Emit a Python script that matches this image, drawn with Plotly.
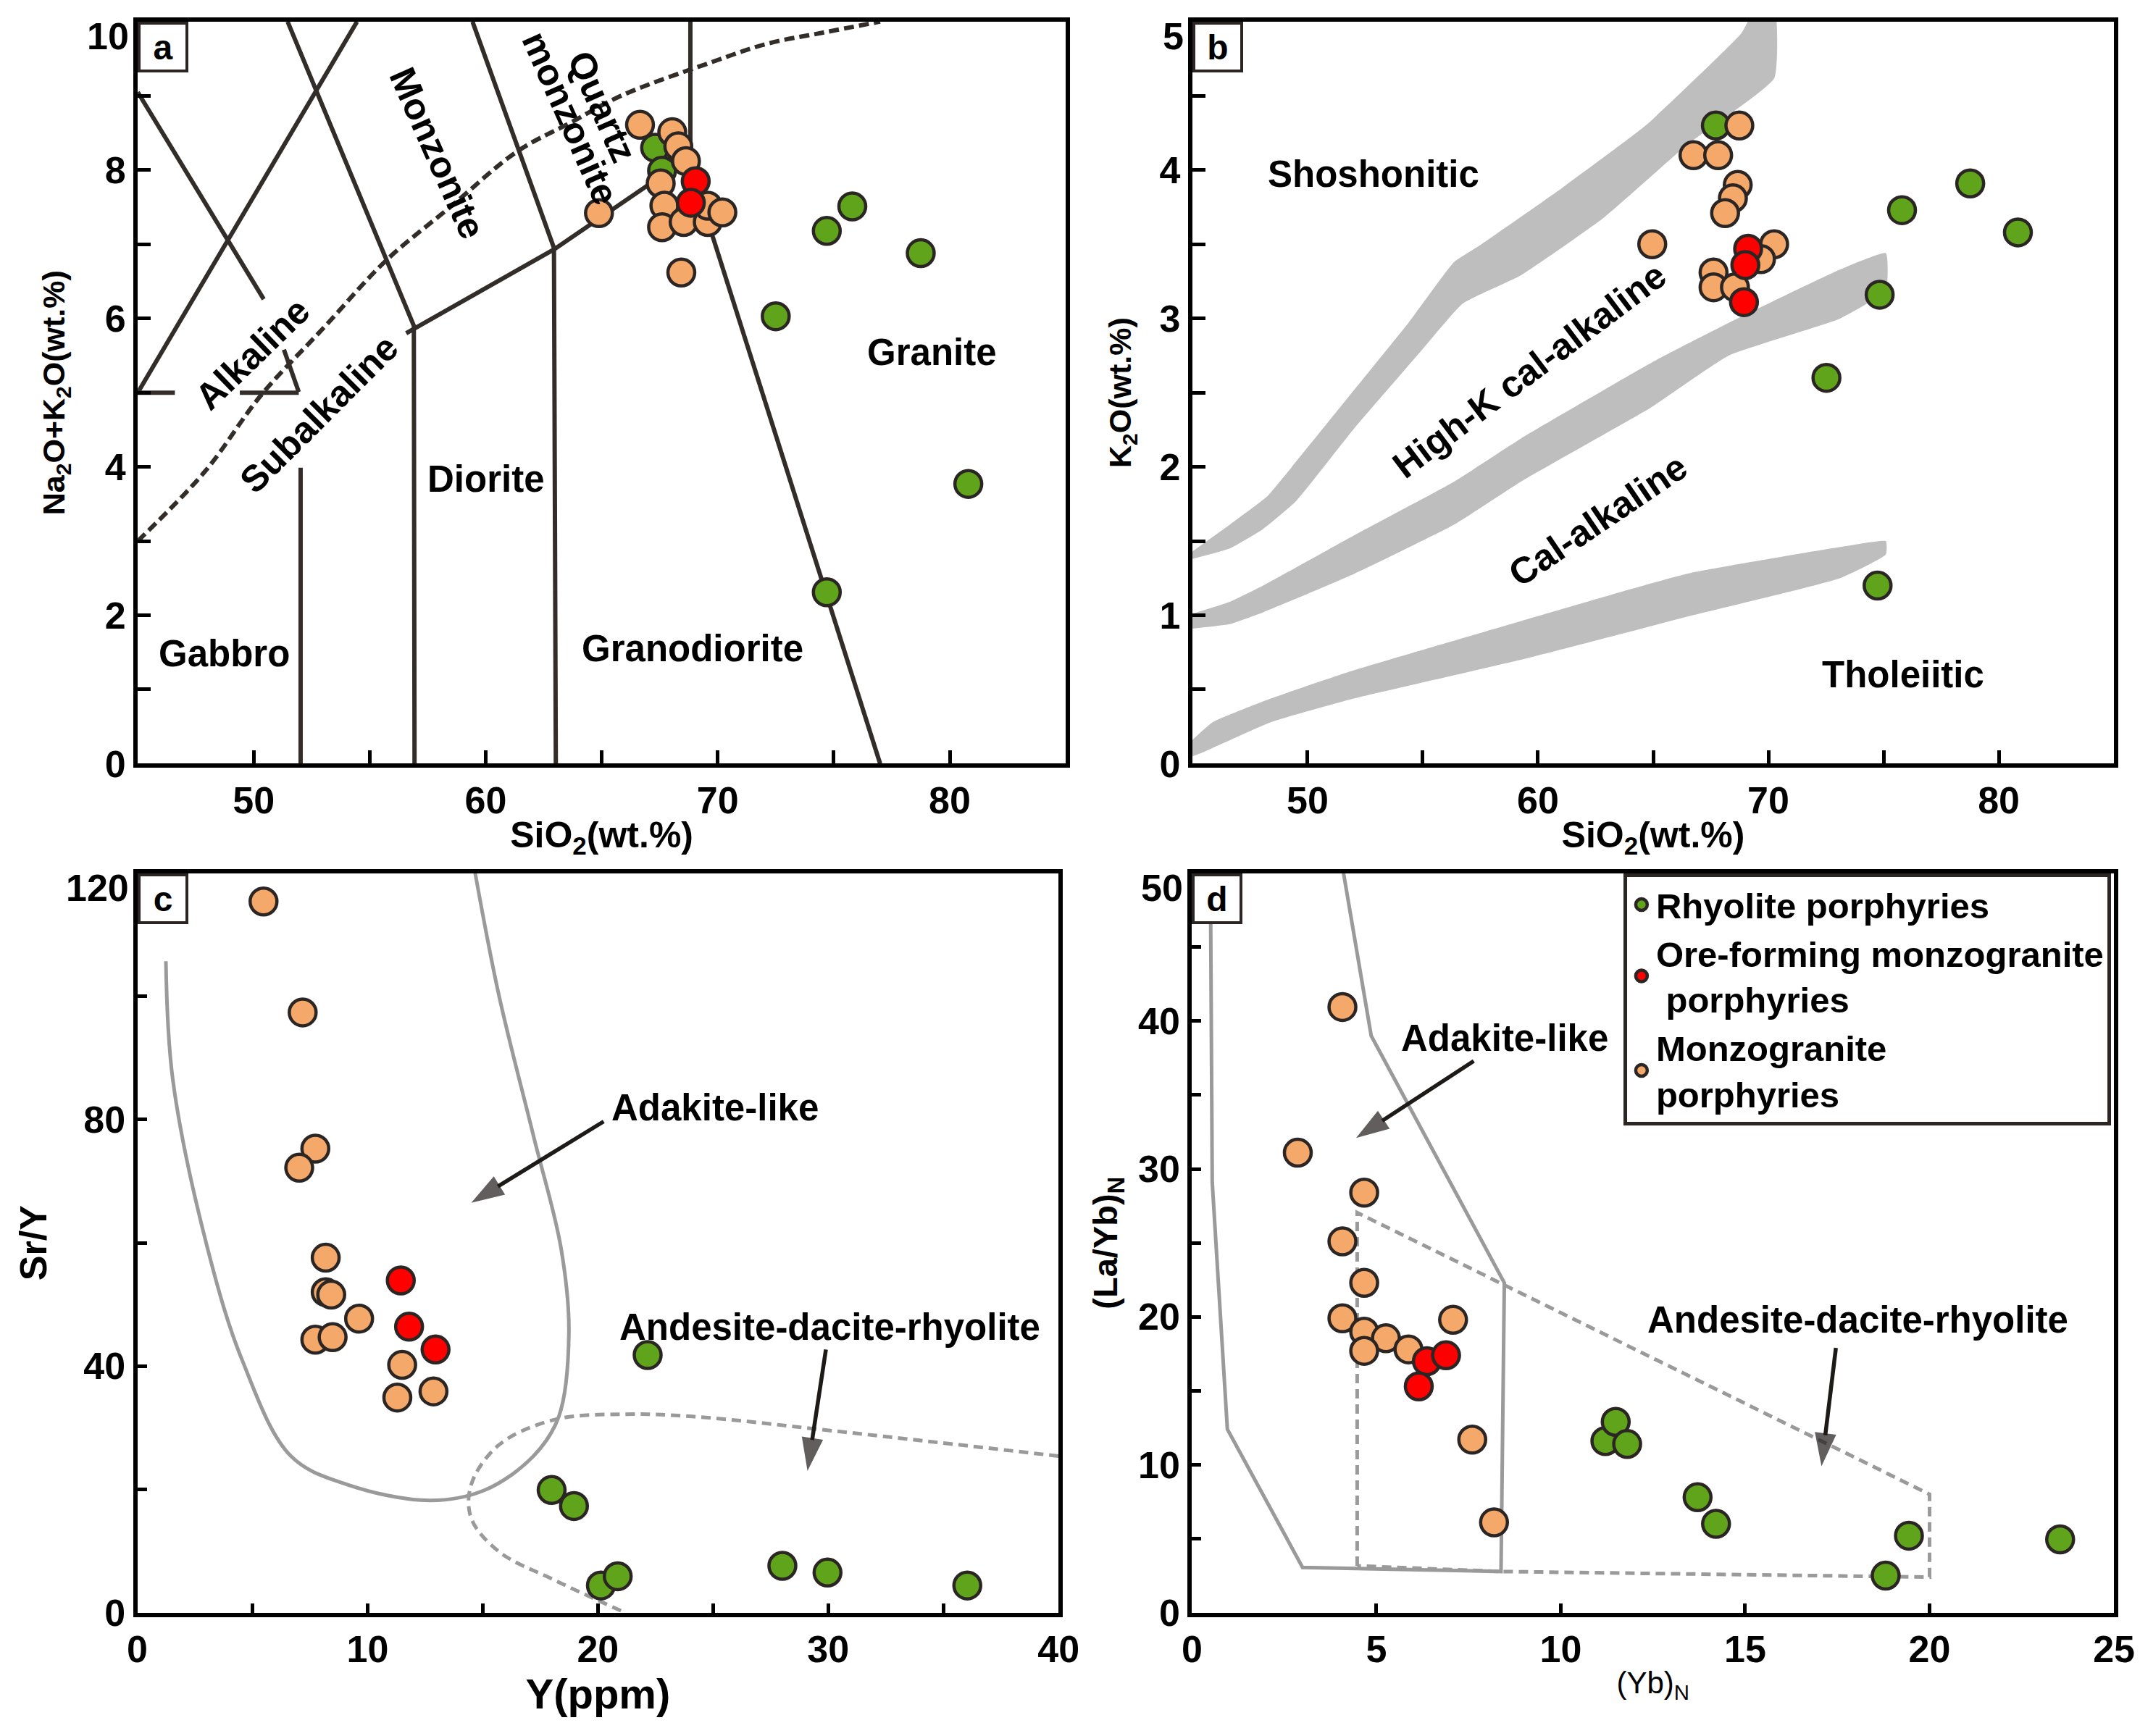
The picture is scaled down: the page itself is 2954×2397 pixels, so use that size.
import plotly.graph_objects as go

FONT = "Liberation Sans, Arial, sans-serif"
DARK = "#2b2623"
LINEC = "#332d2a"
GREEN = "#5fa41b"
ORANGE = "#f4a86a"
RED = "#ff0000"
GRAY = "#9a9a9a"
BAND = "#bebebe"

# ---------------- tick values (top value of each y axis is written at the frame corner) ----------------
ya_ticks = [0, 2, 4, 6, 8]
ya_top = "10"
yb_ticks = [0, 1, 2, 3, 4]
yb_top = "5"
yc_ticks = [0, 40, 80]
yc_top = "120"
yd_ticks = [0, 10, 20, 30, 40]
yd_top = "50"

# ---------------- data: panel a (TAS) ----------------
rhy_a_sio2 = [67.3, 67.6, 72.5, 74.7, 75.8, 78.75, 80.8, 74.7]
rhy_a_alk = [8.30, 7.99, 6.03, 7.18, 7.51, 6.88, 3.77, 2.31]
mzg_a_sio2 = [66.65, 68.04, 68.3, 68.63, 67.54, 67.7, 67.6, 68.53, 69.57, 69.57, 70.2, 64.88, 68.43]
mzg_a_alk = [8.61, 8.51, 8.32, 8.12, 7.82, 7.52, 7.23, 7.30, 7.30, 7.52, 7.43, 7.42, 6.62]
ore_a_sio2 = [69.05, 68.84]
ore_a_alk = [7.85, 7.56]

# ---------------- data: panel b (SiO2-K2O) ----------------
rhy_b_sio2 = [67.72, 72.52, 74.83, 75.8, 78.76, 80.83, 74.74]
rhy_b_k2o = [4.30, 2.60, 3.16, 3.73, 3.91, 3.58, 1.20]
mzg_b_sio2 = [68.74, 66.75, 67.82, 68.67, 68.46, 68.12, 64.96, 70.25, 69.68, 67.62, 67.62, 68.55]
mzg_b_k2o = [4.30, 4.10, 4.10, 3.90, 3.81, 3.71, 3.50, 3.50, 3.40, 3.31, 3.21, 3.21]
ore_b_sio2 = [69.12, 69.0, 68.94]
ore_b_k2o = [3.47, 3.36, 3.11]

# ---------------- data: panel c (Y - Sr/Y) ----------------
rhy_c_y = [17.99, 18.96, 20.13, 20.86, 22.16, 28.01, 29.97, 36.04]
rhy_c_sry = [19.9, 17.3, 4.4, 5.9, 41.8, 7.6, 6.5, 4.4]
mzg_c_y = [5.48, 7.18, 7.73, 7.03, 8.18, 8.18, 8.42, 9.63, 7.73, 8.48, 11.5, 11.29, 12.86]
mzg_c_sry = [115.4, 97.4, 75.3, 72.2, 57.6, 52.0, 51.6, 47.7, 44.3, 44.7, 40.2, 34.9, 35.9]
ore_c_y = [11.44, 11.8, 12.95]
ore_c_sry = [53.9, 46.4, 42.7]

# ---------------- data: panel d (YbN - (La/Yb)N) ----------------
rhy_d_yb = [11.21, 11.49, 11.8, 13.71, 14.21, 18.81, 19.44, 23.54]
rhy_d_layb = [11.6, 12.9, 11.4, 7.8, 6.0, 2.5, 5.2, 4.95]
mzg_d_yb = [4.08, 2.87, 4.67, 4.08, 4.67, 4.08, 4.67, 5.26, 5.87, 4.67, 7.08, 7.6, 8.19]
mzg_d_layb = [40.95, 31.1, 28.4, 25.1, 22.3, 19.9, 19.0, 18.55, 17.8, 17.7, 19.8, 11.7, 6.1]
ore_d_yb = [6.37, 6.89, 6.15]
ore_d_layb = [17.0, 17.4, 15.3]

# ---------------- reference boundaries ----------------
tas_segments = [
    ([45.0, 50.43], [9.05, 6.26]),
    ([51.3, 51.94], [5.58, 5.01]),
    ([45.0, 46.6], [5.0, 5.0]),
    ([49.4, 51.94], [5.0, 5.0]),
    ([45.0, 54.45], [5.0, 10.0]),
    ([52.02, 52.02], [0.0, 3.99]),
    ([51.46, 56.9, 56.93], [10.0, 5.9, 0.0]),
    ([56.57, 62.94, 67.01, 68.75], [5.80, 6.93, 7.80, 8.12]),
    ([59.43, 62.94, 63.02], [10.0, 6.95, 0.0]),
    ([68.82, 68.82], [10.0, 8.12]),
    ([68.75, 77.0], [8.12, 0.0]),
]
alk_sub_x = [45.0, 47.9, 50.3, 53.0, 55.7, 58.5, 61.35, 63.6, 65.9, 69.7, 72.1, 74.5, 77.0]
alk_sub_y = [3.0, 3.94, 4.96, 5.87, 6.78, 7.51, 8.25, 8.63, 9.01, 9.45, 9.70, 9.85, 10.0]

band1_x = [45.0, 46.62, 48.24, 49.32, 52.03, 54.38, 56.36, 57.45, 61.05, 64.67, 68.82, 69.3, 70.26,
           70.26, 66.47, 62.86, 59.25, 56.73, 54.92, 52.03, 49.51, 48.06, 46.62, 45.0]
band1_y = [1.43, 1.61, 1.80, 2.00, 2.52, 2.97, 3.38, 3.49, 3.88, 4.30, 4.92, 5.05, 5.10,
           4.62, 4.17, 3.68, 3.29, 3.10, 2.78, 2.26, 1.77, 1.58, 1.45, 1.38]
band2_x = [45.0, 46.62, 48.07, 52.03, 56.35, 59.25, 64.9, 68.28, 73.12, 75.1,
           75.1, 73.12, 68.28, 64.9, 59.25, 56.35, 52.03, 48.07, 46.62, 45.0]
band2_y = [1.01, 1.09, 1.20, 1.54, 1.90, 2.19, 2.70, 2.97, 3.33, 3.44,
           3.19, 3.00, 2.75, 2.40, 1.90, 1.61, 1.28, 1.02, 0.94, 0.91]
band3_x = [45.0, 45.89, 48.42, 52.03, 59.25, 66.47, 73.12, 75.1,
           75.1, 73.12, 66.47, 59.25, 52.03, 48.42, 45.36, 45.0]
band3_y = [0.16, 0.28, 0.44, 0.63, 0.96, 1.28, 1.46, 1.50,
           1.41, 1.25, 0.99, 0.70, 0.44, 0.28, 0.07, 0.05]

adak_c_x = [1.24, 1.54, 3.05, 4.56, 6.67, 9.09, 12.7, 15.1, 17.2, 18.3, 18.74, 18.4, 17.2, 15.7, 14.67]
adak_c_y = [105.7, 86.5, 59.1, 40.9, 25.4, 20.8, 18.2, 19.9, 25.4, 31.8, 45.4, 59.1, 77.4, 100.2, 120.0]
adr_c_x = [21.0, 18.1, 15.7, 14.5, 14.5, 15.7, 18.1, 21.2, 24.2, 30.2, 40.0]
adr_c_y = [0.3, 5.3, 9.9, 15.3, 20.8, 27.2, 31.3, 32.2, 31.8, 29.5, 25.4]

adak_d_x = [0.5, 0.55, 0.96, 3.0, 8.38, 8.47, 4.86, 4.11]
adak_d_y = [50.0, 29.1, 12.4, 3.05, 2.78, 22.3, 39.0, 50.0]
adr_d_x = [4.48, 4.48, 20.0, 20.0, 8.38, 4.48]
adr_d_y = [3.16, 27.05, 8.0, 2.4, 2.78, 3.16]

fig = go.Figure()


def line_trace(x, y, xa, ya, color, width, dash="solid", shape="linear"):
    fig.add_trace(go.Scatter(x=x, y=y, mode="lines", xaxis=xa, yaxis=ya, showlegend=False,
                             hoverinfo="skip",
                             line=dict(color=color, width=width, dash=dash, shape=shape)))


def band_trace(x, y):
    fig.add_trace(go.Scatter(x=x, y=y, mode="lines", fill="toself", fillcolor=BAND,
                             line=dict(width=0, color=BAND, shape="spline", smoothing=0.4),
                             xaxis="x2", yaxis="y2", showlegend=False, hoverinfo="skip"))


for sx, sy in tas_segments:
    line_trace(sx, sy, "x", "y", LINEC, 6)
line_trace(alk_sub_x, alk_sub_y, "x", "y", LINEC, 6, dash="14px,7px", shape="spline")

band_trace(band1_x, band1_y)
band_trace(band2_x, band2_y)
band_trace(band3_x, band3_y)

line_trace(adak_c_x, adak_c_y, "x3", "y3", GRAY, 5, shape="spline")
line_trace(adr_c_x, adr_c_y, "x3", "y3", GRAY, 5, dash="13px,8px", shape="spline")

line_trace(adak_d_x, adak_d_y, "x4", "y4", GRAY, 5)
line_trace(adr_d_x, adr_d_y, "x4", "y4", GRAY, 5, dash="13px,8px")


def arrow(x0, y0, x1, y1, xa, ya):
    fig.add_trace(go.Scatter(x=[x0, x1], y=[y0, y1], mode="lines+markers", xaxis=xa, yaxis=ya,
                             showlegend=False, hoverinfo="skip",
                             line=dict(color="#1e1a18", width=5.5),
                             marker=dict(symbol="arrow", size=[0, 48], angleref="previous",
                                         color="#1e1a18", line=dict(width=0))))


arrow(20.25, 79.7, 14.5, 66.5, "x3", "y3")
arrow(29.9, 42.7, 29.1, 23.0, "x3", "y3")
arrow(7.64, 37.3, 4.45, 32.1, "x4", "y4")
arrow(17.46, 17.9, 17.07, 9.9, "x4", "y4")

groups = [
    ("Rhyolite porphyries", GREEN, 1,
     [(rhy_a_sio2, rhy_a_alk), (rhy_b_sio2, rhy_b_k2o), (rhy_c_y, rhy_c_sry), (rhy_d_yb, rhy_d_layb)]),
    ("Monzogranite<br>porphyries", ORANGE, 3,
     [(mzg_a_sio2, mzg_a_alk), (mzg_b_sio2, mzg_b_k2o), (mzg_c_y, mzg_c_sry), (mzg_d_yb, mzg_d_layb)]),
    ("Ore-forming monzogranite<br> porphyries", RED, 2,
     [(ore_a_sio2, ore_a_alk), (ore_b_sio2, ore_b_k2o), (ore_c_y, ore_c_sry), (ore_d_yb, ore_d_layb)]),
]
axes_ids = [("x", "y"), ("x2", "y2"), ("x3", "y3"), ("x4", "y4")]
for name, color, rank, series in groups:
    for i, ((sx, sy), (xa, ya)) in enumerate(zip(series, axes_ids)):
        fig.add_trace(go.Scatter(
            x=sx, y=sy, mode="markers", name=name, legendgroup=name, legendrank=rank,
            showlegend=(i == 3), xaxis=xa, yaxis=ya,
            marker=dict(size=37, color=color, line=dict(color=DARK, width=4.5))))


def axis(domain, rng, dtick, minor_dtick, ticklen, anchor, title, tsize, standoff,
         tweight="bold", tickvals=None):
    d = dict(
        domain=domain, range=rng, dtick=dtick, tick0=0, anchor=anchor, automargin=False,
        ticks="inside", ticklen=ticklen, tickwidth=5, tickcolor="black",
        showline=True, linewidth=6, linecolor="black", mirror=True,
        showgrid=False, zeroline=False, fixedrange=True, ticklabeloverflow="allow",
        tickfont=dict(family=FONT, size=52, color="black", weight="bold"),
        minor=dict(dtick=minor_dtick, tick0=0, ticks="inside", ticklen=ticklen, tickwidth=5,
                   tickcolor="black", showgrid=False),
        title=dict(text=title, standoff=standoff,
                   font=dict(family=FONT, size=tsize, color="black", weight=tweight)),
    )
    if tickvals is not None:
        d["tickmode"] = "array"
        d["tickvals"] = tickvals
    return d


# page body keeps an 8px margin; figure sized so that page == window
W, H = 2938, 2381
XA = [0.0620, 0.4980]
XB = [0.5575, 0.9905]
XC = [0.0618, 0.4946]
XD = [0.5573, 0.9905]
YAB = [0.5605, 0.9908]
YCD = [0.0682, 0.4970]

fig.update_layout(
    width=W, height=H, margin=dict(l=0, r=0, t=0, b=0, pad=0), autosize=False,
    paper_bgcolor="white", plot_bgcolor="white",
    xaxis=axis(XA, [45, 85], 10, 5, 18, "y", "SiO<sub>2</sub>(wt.%)", 50, 4),
    yaxis=axis(YAB, [0, 10], 2, 1, 18, "x", "Na<sub>2</sub>O+K<sub>2</sub>O(wt.%)", 43, 44,
               tickvals=ya_ticks),
    xaxis2=axis(XB, [45, 85], 10, 5, 18, "y2", "SiO<sub>2</sub>(wt.%)", 50, 4),
    yaxis2=axis(YAB, [0, 5], 1, 0.5, 18, "x2", "K<sub>2</sub>O(wt.%)", 43, 28, tickvals=yb_ticks),
    xaxis3=axis(XC, [0, 40], 10, 5, 13, "y3", "Y(ppm)", 58, 4),
    yaxis3=axis(YCD, [0, 120], 40, 20, 13, "x3", "Sr/Y", 52, 36, tickvals=yc_ticks),
    xaxis4=axis(XD, [0, 25], 5, 5, 13, "y4", "(Yb)<sub>N</sub>", 42, 6, tweight="normal"),
    yaxis4=axis(YCD, [0, 50], 10, 5, 13, "x4", "(La/Yb)<sub>N</sub>", 47, 16, tickvals=yd_ticks),
    legend=dict(x=0.7600, y=YCD[1], xanchor="left", yanchor="top",
                bgcolor="white", bordercolor=DARK, borderwidth=5,
                font=dict(family=FONT, size=49, color="black", weight="bold"),
                itemsizing="trace", traceorder="normal", tracegroupgap=0, valign="middle"),
)

annotations = []


def label(text, x, y, xref, yref, angle=0, size=51):
    annotations.append(dict(text=text, x=x, y=y, xref=xref, yref=yref, showarrow=False,
                            textangle=angle, xanchor="center", yanchor="middle",
                            font=dict(family=FONT, size=size, color="black", weight="bold")))


label("Gabbro", 48.72, 1.48, "x", "y")
label("Diorite", 60.0, 3.84, "x", "y")
label("Granodiorite", 68.93, 1.55, "x", "y")
label("Granite", 79.23, 5.54, "x", "y")
label("Monzonite", 57.92, 8.23, "x", "y", angle=66)
label("Quartz", 65.02, 8.85, "x", "y", angle=66)
label("monzonite", 63.66, 8.70, "x", "y", angle=66)
label("Alkaline", 49.95, 5.52, "x", "y", angle=-44)
label("Subalkaline", 52.82, 4.71, "x", "y", angle=-45)

label("Shoshonitic", 52.85, 3.97, "x2", "y2")
label("High-K cal-alkaline", 59.61, 2.65, "x2", "y2", angle=-37)
label("Cal-alkaline", 62.59, 1.64, "x2", "y2", angle=-34)
label("Tholeiitic", 75.86, 0.60, "x2", "y2")

label("Adakite-like", 25.08, 81.9, "x3", "y3")
label("Andesite-dacite-rhyolite", 30.06, 46.35, "x3", "y3")

label("Adakite-like", 8.47, 38.86, "x4", "y4")
label("Andesite-dacite-rhyolite", 18.05, 19.8, "x4", "y4")

# top value of each y axis, set just below the frame corner as in the original
for txt, xa, ya in [(ya_top, "x", "y"), (yb_top, "x2", "y2"), (yc_top, "x3", "y3"), (yd_top, "x4", "y4")]:
    annotations.append(dict(text=txt, x=0, y=1, xref=xa + " domain", yref=ya + " domain",
                            xanchor="right", yanchor="middle", xshift=-10, yshift=-20,
                            showarrow=False,
                            font=dict(family=FONT, size=52, color="black", weight="bold")))

for letter, xa, ya in [("a", "x", "y"), ("b", "x2", "y2"), ("c", "x3", "y3"), ("d", "x4", "y4")]:
    annotations.append(dict(text=letter, x=0, y=1, xref=xa + " domain", yref=ya + " domain",
                            xanchor="left", yanchor="top", showarrow=False,
                            width=58, height=58, borderpad=2, borderwidth=4, bordercolor=DARK,
                            bgcolor="white", align="center", valign="middle",
                            font=dict(family=FONT, size=48, color="black", weight="bold")))

fig.update_layout(annotations=annotations)

fig.write_html("out.html")
